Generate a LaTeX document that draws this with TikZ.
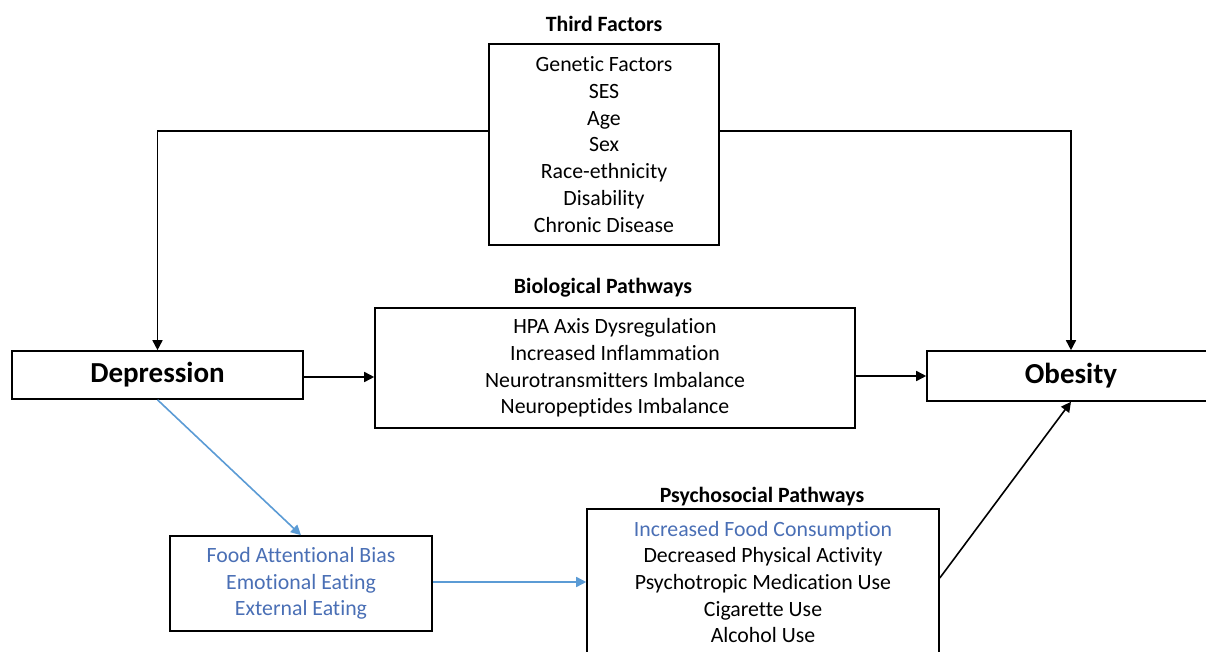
\documentclass[tikz,border=0pt]{standalone}
\usepackage{fontspec}
\setmainfont{Carlito}[Ligatures=NoCommon]
\usetikzlibrary{arrows.meta}
\definecolor{txtblue}{HTML}{4A6FB5}
\definecolor{arrblue}{HTML}{5B9BD5}
\begin{document}
\begin{tikzpicture}[x=0.5pt,y=-0.5pt,>={Triangle[length=5pt,width=5pt]},
		font=\fontsize{10.9}{13.35}\selectfont,
		box/.style={draw,line width=0.8pt,inner sep=0pt,align=center},
		title/.style={font=\fontsize{10.9}{13.35}\selectfont\bfseries},
		big/.style={font=\fontsize{14.5}{17}\selectfont\bfseries},
		arr/.style={->,line width=0.8pt},
		barr/.style={->,line width=0.8pt,draw=arrblue}]
				\useasboundingbox (0,0) rectangle (1206,652);
				\clip (0,0) rectangle (1206,652);
				% boxes
				\node[box,minimum width=115pt,minimum height=100.5pt] (third) at (604,144.5) {Genetic Factors\\SES\\Age\\Sex\\Race-ethnicity\\Disability\\Chronic Disease};
				\node[title] (thirdt) at (604,24) {Third Factors};
				\node[box,big,minimum width=145.5pt,minimum height=24pt] (dep) at (157.5,375) {Depression};
				\node[box,big,minimum width=144pt,minimum height=25pt] (ob) at (1071,376) {Obesity};
				\node[box,minimum width=240pt,minimum height=60pt] (bio) at (615,368) {HPA Axis Dysregulation\\Increased Inflammation\\Neurotransmitters Imbalance\\Neuropeptides Imbalance};
				\node[title] (biot) at (603,288) {Biological Pathways};
				\node[box,text=txtblue,minimum width=131pt,minimum height=47.5pt] (food) at (301,583.5) {Food Attentional Bias\\Emotional Eating\\External Eating};
				\node[box,minimum width=176pt,minimum height=73pt] (psy) at (763,582) {\textcolor{txtblue}{Increased Food Consumption}\\Decreased Physical Activity\\Psychotropic Medication Use\\Cigarette Use\\Alcohol Use};
				\node[title] (psyt) at (762,497) {Psychosocial Pathways};
				% connectors
				\coordinate (tl) at ([yshift=6.75pt]third.west);
				\coordinate (tr) at ([yshift=6.75pt]third.east);
				\draw[arr] (tl) -| (dep.north);
				\draw[arr] (tr) -| (ob.north);
				\draw[arr] (dep.east |- 0,377) -- (bio.west |- 0,377);
				\draw[arr] (bio.east |- ob.west) -- (ob.west);
				\draw[barr] (dep.south) -- (food.north);
				\draw[barr] (food.east |- psy.west) -- (psy.west);
				\draw[arr] ([yshift=2pt]psy.east) -- (ob.south);
			\end{tikzpicture}
\end{document}
